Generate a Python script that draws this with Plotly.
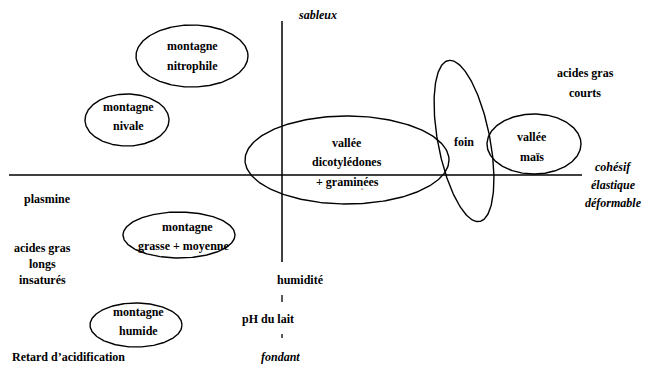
import numpy as np
import plotly.graph_objects as go

# ---- data (diagram coordinates, pixel-like units, y pointing down) ----
ell_names = ["montagne nitrophile", "montagne nivale", "vallée dicot", "foin",
             "vallée maïs", "montagne grasse", "montagne humide"]
ell_cx = [192, 127, 347, 464, 534, 179, 136]
ell_cy = [56, 120, 160, 141, 144, 235, 325]
ell_rx = [56, 42, 102, 26, 47, 56, 46]
ell_ry = [31, 26, 44, 82, 30, 23, 22]
ell_tilt = [0, 0, 0, -11, 0, 0, 0]  # degrees

axis_h_x = [9, 582]
axis_h_y = [175, 175]
axis_v_x = [282, 282]
axis_v_y = [21, 262]

tick_x = [282, 282]
tick_y0 = [295, 334]
tick_y1 = [302, 338]

lab_text = ["montagne", "nitrophile", "montagne", "nivale",
            "vallée", "dicotylédones", "+ graminées", "foin", "vallée", "maïs",
            "acides gras", "courts", "plasmine", "acides gras", "longs", "insaturés",
            "montagne", "grasse + moyenne", "humidité", "pH du lait",
            "montagne", "humide", "Retard d’acidification"]
lab_x = [192, 192, 128, 128, 347, 347, 347, 464, 532, 532, 585, 585, 47, 42, 42, 42,
         187, 184, 300, 268, 138, 138, 68]
lab_y = [46, 66, 107, 126, 143, 162, 182, 142, 137, 157, 73, 93, 199, 248, 264, 280,
         227, 246, 280, 319, 312, 331, 357]

ax_text = ["sableux", "cohésif", "élastique", "déformable", "fondant"]
ax_x = [317, 613, 613, 613, 280]
ax_y = [15, 167, 185, 203, 357]

mark_text = ["ʺ"]
mark_x = [362]
mark_y = [191]

fig = go.Figure()

for cx, cy, rx, ry, tilt in zip(ell_cx, ell_cy, ell_rx, ell_ry, ell_tilt):
    t = np.linspace(0, 2 * np.pi, 240)
    a = np.deg2rad(tilt)
    ex = rx * np.cos(t)
    ey = ry * np.sin(t)
    xs = cx + ex * np.cos(a) - ey * np.sin(a)
    ys = cy + ex * np.sin(a) + ey * np.cos(a)
    fig.add_trace(go.Scatter(x=xs, y=ys, mode="lines",
                             line=dict(color="black", width=1.4),
                             hoverinfo="skip", showlegend=False))

fig.add_trace(go.Scatter(x=axis_h_x, y=axis_h_y, mode="lines",
                         line=dict(color="black", width=1.5), showlegend=False))
fig.add_trace(go.Scatter(x=axis_v_x, y=axis_v_y, mode="lines",
                         line=dict(color="black", width=1.5), showlegend=False))
for x, y0, y1 in zip(tick_x, tick_y0, tick_y1):
    fig.add_trace(go.Scatter(x=[x, x], y=[y0, y1], mode="lines",
                             line=dict(color="black", width=1.3), showlegend=False))

for t, x, y in zip(lab_text, lab_x, lab_y):
    fig.add_annotation(x=x, y=y, text="<b>" + t + "</b>", showarrow=False,
                       font=dict(family="Liberation Serif", size=12, color="black"),
                       xanchor="center", yanchor="middle", align="center")

for t, x, y in zip(ax_text, ax_x, ax_y):
    fig.add_annotation(x=x, y=y, text="<b><i>" + t + "</i></b>", showarrow=False,
                       font=dict(family="Liberation Serif", size=12, color="black"),
                       xanchor="center", yanchor="middle", align="center")

for t, x, y in zip(mark_text, mark_x, mark_y):
    fig.add_annotation(x=x, y=y, text=t, showarrow=False,
                       font=dict(family="Liberation Serif", size=6, color="black"),
                       xanchor="center", yanchor="middle")

fig.update_xaxes(range=[0, 649], visible=False)
fig.update_yaxes(range=[368, 0], visible=False)
fig.update_layout(width=649, height=368, margin=dict(l=0, r=0, t=0, b=0),
                  plot_bgcolor="white", paper_bgcolor="white")

fig.write_html("out.html", config={"displayModeBar": False},
               post_script="document.body.style.margin='0';"
                           "document.body.style.overflow='hidden';")
